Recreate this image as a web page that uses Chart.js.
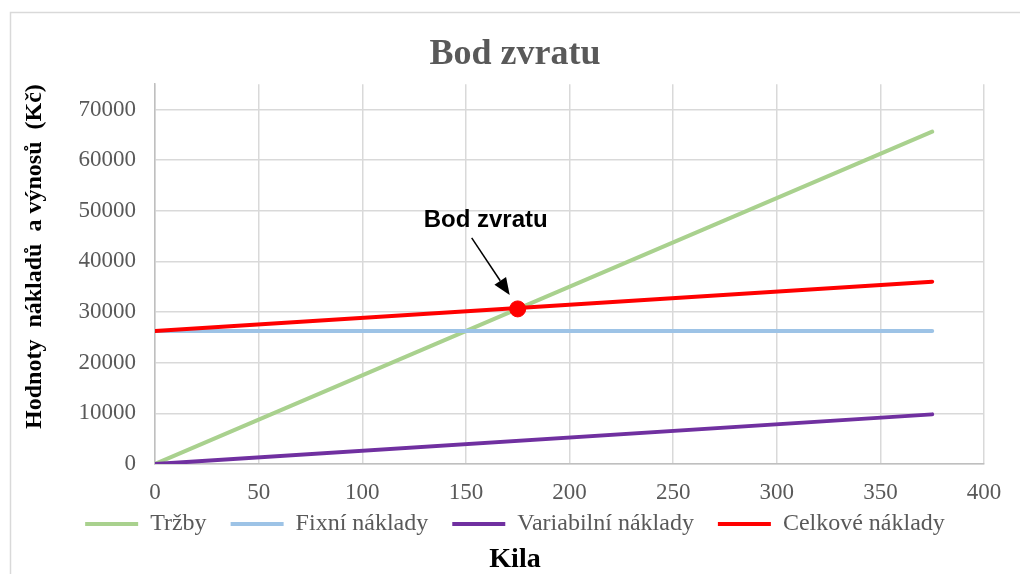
<!DOCTYPE html>
<html><head><meta charset="utf-8">
<script src="https://cdn.jsdelivr.net/npm/chart.js@4/dist/chart.umd.min.js"></script>
<style>html,body{margin:0;padding:0;background:#fff}</style>
</head><body>
<canvas id="c" width="1020" height="574"></canvas>
<script>
// ---- data ----
const kila = [0, 375];
const trzby = [0, 65625];
const fixniNaklady = [26250, 26250];
const variabilniNaklady = [0, 9800];
const celkoveNaklady = [26250, 36000];
const bodZvratu = [175, 30625];
const xTickValues = [0, 50, 100, 150, 200, 250, 300, 350, 400];
const yTickValues = [0, 10000, 20000, 30000, 40000, 50000, 60000, 70000];
const seriesNames = ['Tržby', 'Fixní náklady', 'Variabilní náklady', 'Celkové náklady'];

const SERIF = "'Liberation Serif', 'Times New Roman', serif";
const SANS = "'Liberation Sans', Arial, sans-serif";
const GRID = '#d9d9d9';
const TXT = '#595959';

const pts = arr => kila.map((x, i) => ({x, y: arr[i]}));
const lineDs = (label, arr, color, order) => ({
  label, data: pts(arr), borderColor: color, backgroundColor: color,
  borderWidth: 4, pointRadius: 0, tension: 0, borderCapStyle: 'round', order
});

const framePlugin = {
  id: 'frame',
  beforeDraw(chart) {
    const c = chart.ctx;
    c.save();
    c.fillStyle = '#fff';
    c.fillRect(0, 0, chart.width, chart.height);
    c.strokeStyle = GRID;
    c.lineWidth = 1.5;
    c.strokeRect(10.5, 12.5, chart.width + 20, chart.height + 20);
    c.restore();
  }
};

const annotPlugin = {
  id: 'annot',
  afterDatasetsDraw(chart) {
    const c = chart.ctx;
    const px = chart.scales.x.getPixelForValue(bodZvratu[0]);
    const py = chart.scales.y.getPixelForValue(bodZvratu[1]);
    c.save();
    c.fillStyle = '#000';
    c.font = 'bold 24px ' + SANS;
    c.textAlign = 'center';
    c.textBaseline = 'middle';
    c.fillText('Bod zvratu', px - 32, py - 89);
    const x1 = px - 46, y1 = py - 71, x2 = px - 8, y2 = py - 14;
    const ang = Math.atan2(y2 - y1, x2 - x1);
    const hl = 17, hw = 7;
    const bx = x2 - hl * Math.cos(ang), by = y2 - hl * Math.sin(ang);
    c.strokeStyle = '#000';
    c.lineWidth = 1.5;
    c.beginPath(); c.moveTo(x1, y1); c.lineTo(bx, by); c.stroke();
    c.beginPath();
    c.moveTo(x2, y2);
    c.lineTo(bx + hw * Math.sin(ang), by - hw * Math.cos(ang));
    c.lineTo(bx - hw * Math.sin(ang), by + hw * Math.cos(ang));
    c.closePath(); c.fill();
    c.restore();
  }
};

new Chart(document.getElementById('c'), {
  type: 'line',
  data: {
    datasets: [
      lineDs(seriesNames[0], trzby, '#a9d18e', 4),
      lineDs(seriesNames[1], fixniNaklady, '#9dc3e6', 3),
      lineDs(seriesNames[2], variabilniNaklady, '#7030a0', 2),
      lineDs(seriesNames[3], celkoveNaklady, '#ff0000', 1),
      {label: 'Bod zvratu', data: [{x: bodZvratu[0], y: bodZvratu[1]}], showLine: false,
       pointRadius: 8, pointBackgroundColor: '#ff0000', pointBorderColor: '#ff0000',
       pointBorderWidth: 1, borderColor: '#ff0000', backgroundColor: '#ff0000', order: 0}
    ]
  },
  options: {
    responsive: false, animation: false, devicePixelRatio: 1,
    layout: {padding: {left: 10, right: 0, top: 0, bottom: 0}},
    plugins: {
      title: {display: true, text: 'Bod zvratu', color: TXT,
              font: {family: SERIF, size: 36, weight: 'bold'}, padding: {top: 33, bottom: 8}},
      subtitle: {display: true, position: 'bottom', text: 'Kila', color: '#000',
                 font: {family: SERIF, size: 28, weight: 'bold', lineHeight: 1}, padding: {top: 0, bottom: 0}},
      legend: {
        position: 'bottom',
        labels: {
          color: TXT, font: {family: SERIF, size: 24}, boxWidth: 53, boxHeight: 4, padding: 6,
          generateLabels(chart) {
            const items = Chart.defaults.plugins.legend.labels.generateLabels(chart)
              .filter(it => it.datasetIndex < 4)
              .sort((a, b) => a.datasetIndex - b.datasetIndex);
            return items.map((it, k) => Object.assign({}, it, {
              lineWidth: 0,
              text: k < items.length - 1 ? it.text + '\u00a0\u00a0\u00a0' : it.text
            }));
          }
        }
      },
      tooltip: {enabled: false}
    },
    scales: {
      x: {
        type: 'linear', min: 0, max: 400,
        afterBuildTicks(s) { s.ticks = xTickValues.map(v => ({value: v})); },
        afterFit(s) { s.height = 42; },
        ticks: {color: TXT, font: {family: SERIF, size: 23}, padding: 15, maxRotation: 0, autoSkip: false,
                callback: v => String(v)},
        grid: {color: GRID, lineWidth: 1.5, drawTicks: false},
        border: {color: '#bfbfbf', width: 1.5}
      },
      y: {
        min: 0, max: 75000,
        afterBuildTicks(s) { s.ticks = yTickValues.map(v => ({value: v})); },
        afterFit(s) { s.width = 145; },
        ticks: {color: TXT, font: {family: SERIF, size: 23}, padding: 19, callback: v => String(v)},
        grid: {color: GRID, lineWidth: 1.5, drawTicks: false},
        border: {color: '#bfbfbf', width: 1.5},
        title: {display: true, text: 'Hodnoty  nákladů  a výnosů  (Kč)', color: '#000', align: 'end',
                font: {family: SERIF, size: 24, weight: 'bold'}, padding: {top: 10, bottom: 0}}
      },
      y2: {
        position: 'right', display: true,
        ticks: {display: false}, grid: {display: false}, border: {display: false},
        afterFit(s) { s.width = 36; }
      }
    }
  },
  plugins: [framePlugin, annotPlugin]
});
</script>
</body></html>
